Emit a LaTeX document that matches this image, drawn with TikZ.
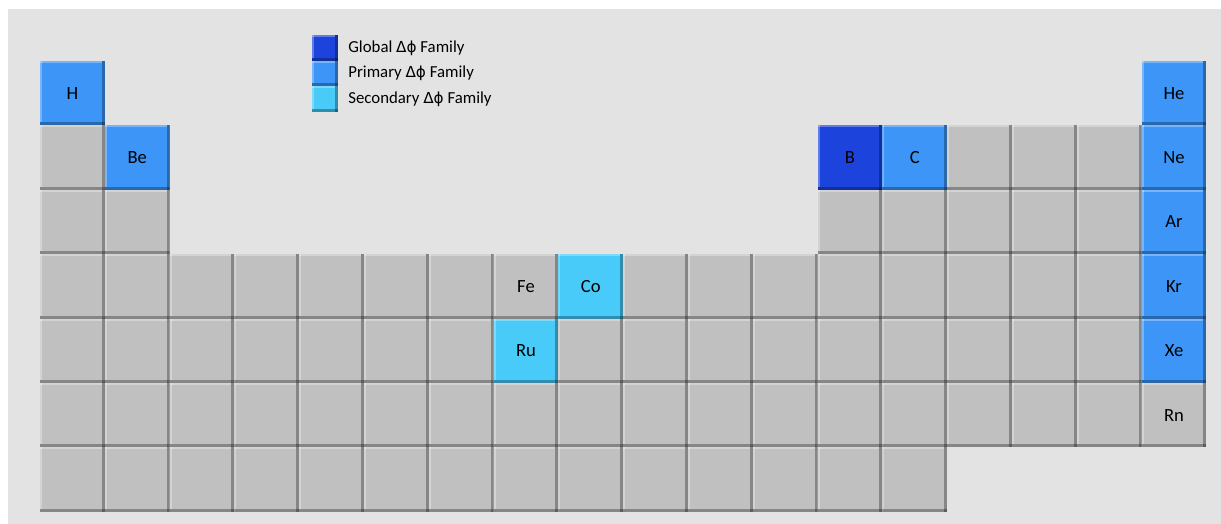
\documentclass[tikz,border=0pt]{standalone}
\usepackage{fontspec}
\setmainfont{Carlito}
\newfontfamily\greekfont{DejaVu Sans}
\usetikzlibrary{positioning}
\definecolor{bgGray}{HTML}{E3E3E3}
\definecolor{cellGray}{HTML}{C0C0C0}
\definecolor{globalBlue}{HTML}{1C44DC}
\definecolor{primaryBlue}{HTML}{3D96F7}
\definecolor{secondaryBlue}{HTML}{48CBF9}
\newcommand{\dphi}{{\greekfont\fontsize{7.6}{9}\selectfont Δϕ}}
\tikzset{
    base/.style = {
        rectangle, inner sep=0pt, outer sep=0pt, text=black,
        path picture={
            \fill[black, opacity=0.3] (path picture bounding box.south west) rectangle ([yshift=1.5pt]path picture bounding box.south east);
            \fill[black, opacity=0.3] ([xshift=-1.5pt]path picture bounding box.south east) rectangle (path picture bounding box.north east);
            \fill[white, opacity=0.3] ([yshift=-1pt]path picture bounding box.north west) rectangle ([xshift=-1.5pt]path picture bounding box.north east);
            \fill[white, opacity=0.3] ([yshift=1.5pt]path picture bounding box.south west) rectangle ([xshift=1pt]path picture bounding box.north west);
        }
    },
    % Cells of the table
    cell/.style      = {base, minimum width=32.4pt, minimum height=32.2pt, font=\fontsize{9.3}{11}\selectfont},
    plain/.style     = {cell, fill=cellGray},
    global/.style    = {cell, fill=globalBlue},
    primary/.style   = {cell, fill=primaryBlue},
    secondary/.style = {cell, fill=secondaryBlue},
    % Legend
    key/.style     = {base, minimum width=13pt, minimum height=12.8pt},
    keytext/.style = {font=\fontsize{8.4}{9}\selectfont, anchor=west, inner sep=0pt}
}
\begin{document}
\begin{tikzpicture}[x=32.4pt, y=-32.2pt]
    \useasboundingbox (-0.117,-0.447) rectangle (18.725,7.689);
    \fill[bgGray] (0.006,-0.307) rectangle (18.725,7.689);

    % empty cells
    \foreach \c in {1,15,16,17}
        \node (c-2-\c) [plain] at (\c,2) {};
    \foreach \c in {1,2,13,14,15,16,17}
        \node (c-3-\c) [plain] at (\c,3) {};
    \foreach \c in {1,2,3,4,5,6,7,10,11,12,13,14,15,16,17}
        \node (c-4-\c) [plain] at (\c,4) {};
    \foreach \c in {1,2,3,4,5,6,7,9,10,11,12,13,14,15,16,17}
        \node (c-5-\c) [plain] at (\c,5) {};
    \foreach \c in {1,...,17}
        \node (c-6-\c) [plain] at (\c,6) {};
    \foreach \c in {1,...,14}
        \node (c-7-\c) [plain] at (\c,7) {};

    % named elements
    \node (H)  [primary] at (1,1) {H};
    \node (He) [primary] at (18,1) {He};
    \node (Be) [primary] at (2,2) {Be};
    \node (B)  [global]  at (13,2) {B};
    \node (C)  [primary] at (14,2) {C};
    \node (Ne) [primary] at (18,2) {Ne};
    \node (Ar) [primary] at (18,3) {Ar};
    \node (Fe) [plain]   at (8,4) {Fe};
    \node (Co) [secondary] at (9,4) {Co};
    \node (Kr) [primary] at (18,4) {Kr};
    \node (Ru) [secondary] at (8,5) {Ru};
    \node (Xe) [primary] at (18,5) {Xe};
    \node (Rn) [plain]   at (18,6) {Rn};

    % legend
    \node (kGlobal)    [key, fill=globalBlue]    at (4.898,0.298) {};
    \node (kPrimary)   [key, fill=primaryBlue,   below=0pt of kGlobal] {};
    \node (kSecondary) [key, fill=secondaryBlue, below=0pt of kPrimary] {};
    \node (tGlobal)    [keytext, right=5pt of kGlobal]    {Global \dphi{} Family};
    \node (tPrimary)   [keytext, right=5pt of kPrimary]   {Primary \dphi{} Family};
    \node (tSecondary) [keytext, right=5pt of kSecondary] {Secondary \dphi{} Family};
\end{tikzpicture}
\end{document}
